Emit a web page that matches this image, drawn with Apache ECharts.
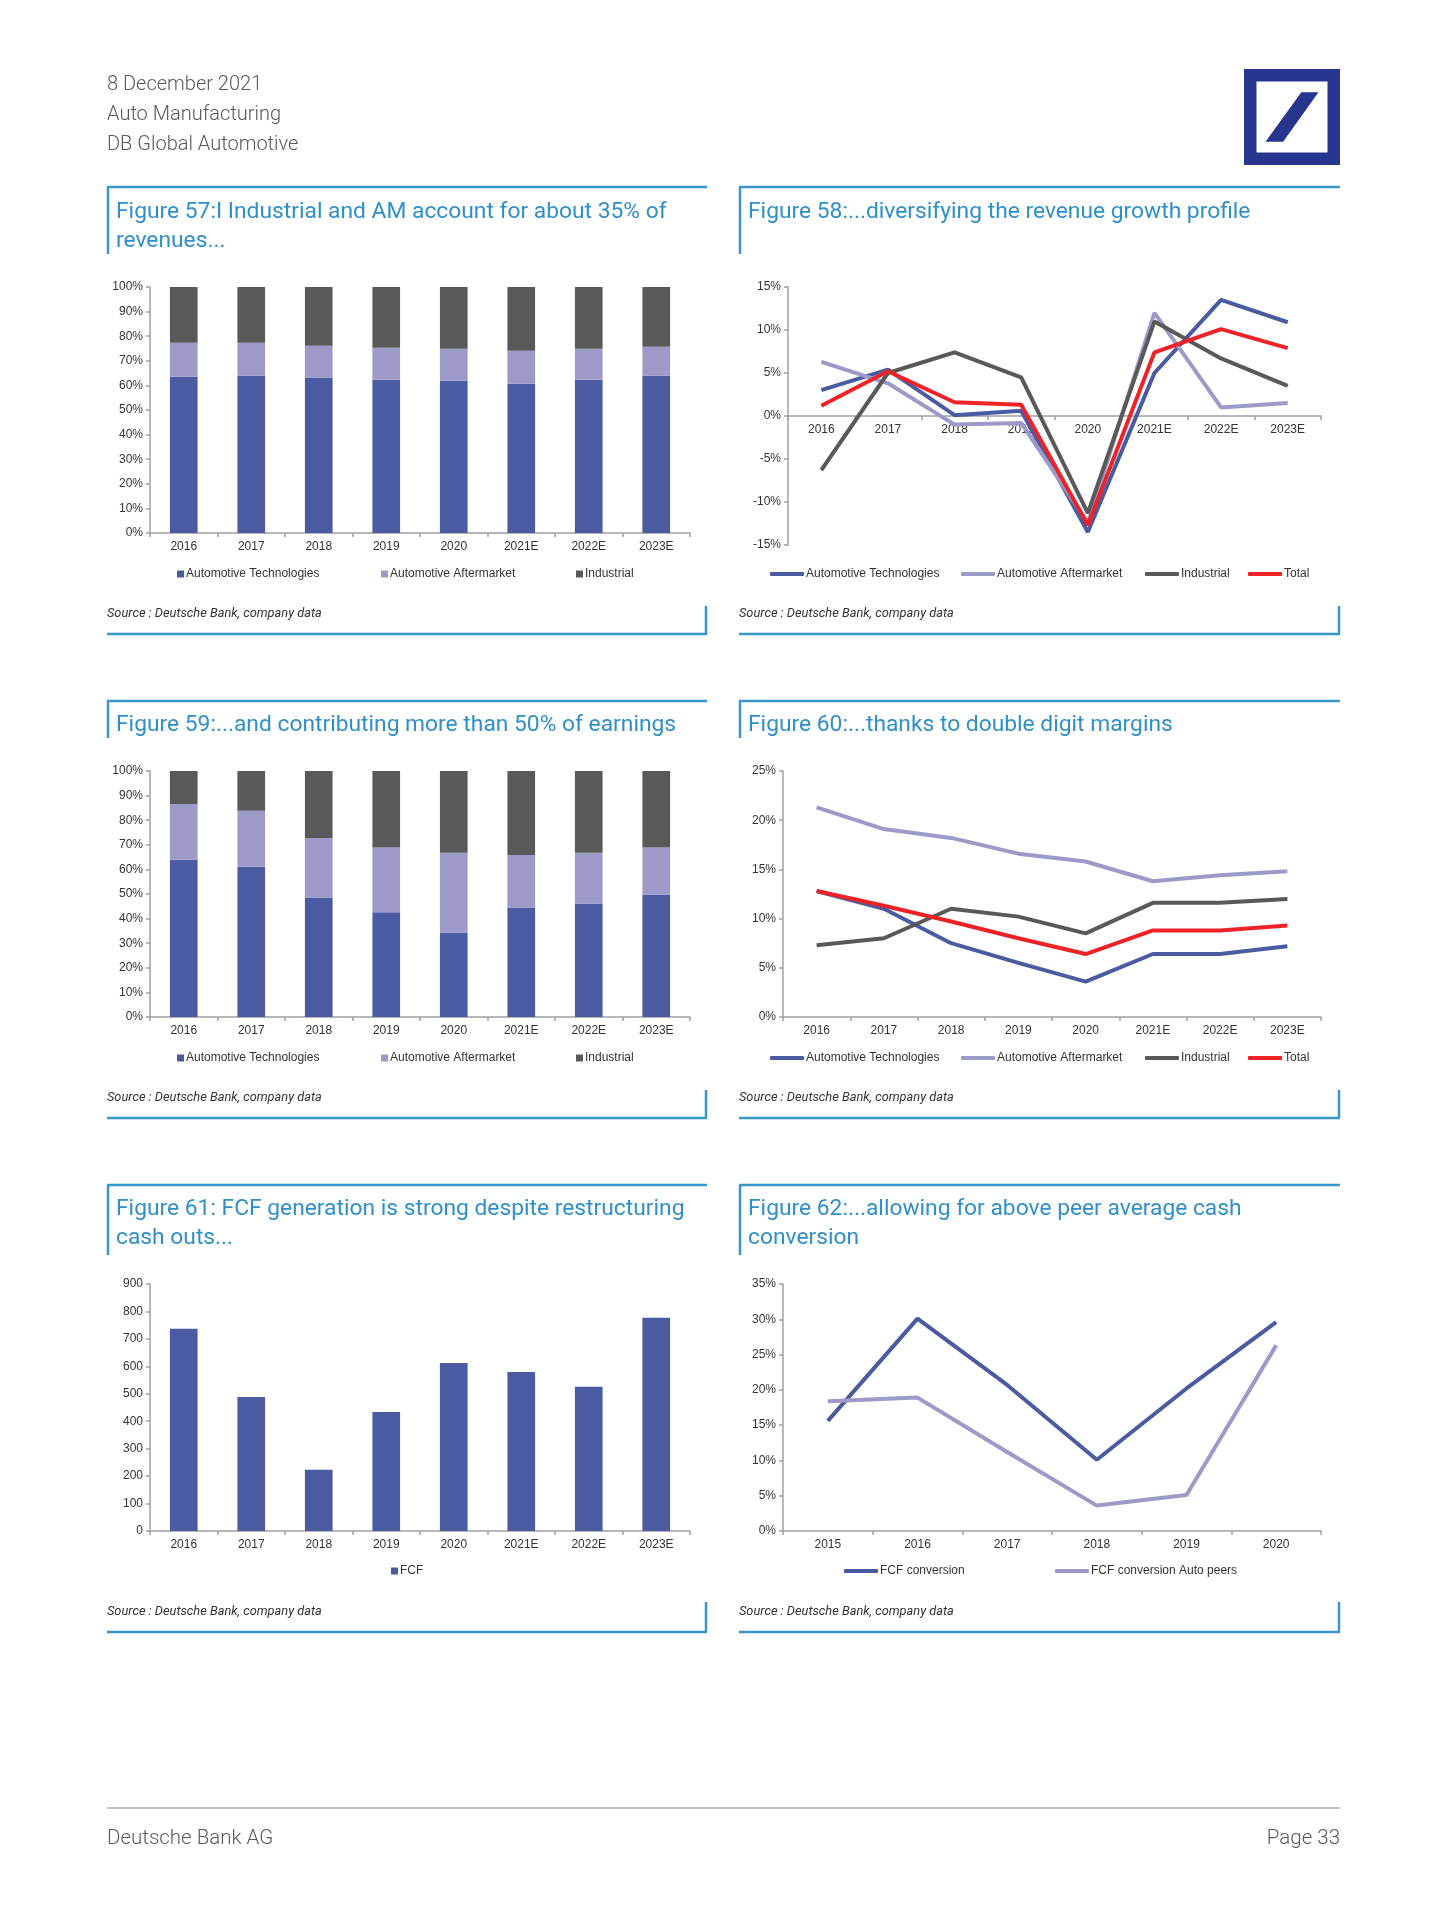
<!DOCTYPE html>
<html>
<head>
<meta charset="utf-8">
<script src="https://cdn.jsdelivr.net/npm/echarts@6/dist/echarts.min.js"></script>
<style>
html,body{margin:0;padding:0;background:#fff;}
#c{width:1447px;height:1930px;}
</style>
</head>
<body>
<div id="c"></div>
<script>
// ---------- DATA ----------
const years8 = ['2016','2017','2018','2019','2020','2021E','2022E','2023E'];
const years6 = ['2015','2016','2017','2018','2019','2020'];

// Figure 57: revenue split (%)
const revShareAT  = [63.5, 63.9, 63.1, 62.3, 61.9, 60.7, 62.3, 63.9];
const revShareAM  = [13.8, 13.4, 13.0, 13.0, 13.0, 13.4, 12.6, 11.8];
const revShareInd = [22.7, 22.7, 23.9, 24.7, 25.1, 25.9, 25.1, 24.3];

// Figure 58: revenue growth (%)
const growthAT    = [3.0, 5.4, 0.1, 0.6, -13.5, 5.0, 13.5, 10.9];
const growthAM    = [6.3, 3.8, -1.0, -0.8, -12.4, 12.0, 1.0, 1.5];
const growthInd   = [-6.3, 5.0, 7.4, 4.5, -11.3, 11.0, 6.7, 3.5];
const growthTotal = [1.2, 5.2, 1.6, 1.3, -12.7, 7.4, 10.1, 7.9];

// Figure 59: earnings split (%)
const ebitShareAT  = [63.9, 61.1, 48.5, 42.6, 34.3, 44.5, 46.1, 49.7];
const ebitShareAM  = [22.7, 22.7, 24.3, 26.3, 32.5, 21.4, 20.7, 19.2];
const ebitShareInd = [13.4, 16.2, 27.2, 31.1, 33.2, 34.1, 33.2, 31.1];

// Figure 60: margins (%)
const marginAT    = [12.8, 11.0, 7.5, 5.5, 3.6, 6.4, 6.4, 7.2];
const marginAM    = [21.3, 19.1, 18.2, 16.6, 15.8, 13.8, 14.4, 14.8];
const marginInd   = [7.3, 8.0, 11.0, 10.2, 8.5, 11.6, 11.6, 12.0];
const marginTotal = [12.8, 11.3, 9.7, 8.0, 6.4, 8.8, 8.8, 9.3];

// Figure 61: FCF
const fcf = [737, 488, 223, 434, 612, 579, 526, 777];

// Figure 62: FCF conversion (%)
const fcfConv      = [15.6, 30.1, 20.7, 10.1, 20.2, 29.6];
const fcfConvPeers = [18.4, 18.9, 11.2, 3.6, 5.1, 26.3];

// Texts
const headerLines = ['8 December 2021', 'Auto Manufacturing', 'DB Global Automotive'];
const titles = [
  ['Figure 57:I Industrial and AM account for about 35% of', 'revenues...'],
  ['Figure 58:...diversifying the revenue growth profile'],
  ['Figure 59:...and contributing more than 50% of earnings'],
  ['Figure 60:...thanks to double digit margins'],
  ['Figure 61: FCF generation is strong despite restructuring', 'cash outs...'],
  ['Figure 62:...allowing for above peer average cash', 'conversion']
];
const sourceText = 'Source : Deutsche Bank, company data';
const footerLeft = 'Deutsche Bank AG';
const footerRight = 'Page 33';
const segNames = ['Automotive Technologies', 'Automotive Aftermarket', 'Industrial', 'Total'];

// ---------- STYLE ----------
const C_AT = '#4a5ba2', C_AM = '#9d99c9', C_IND = '#595959', C_TOT = '#ee2227';
const C_FRAME = '#3a97cc';
const AX = '#a0a0a0';
const LBL = {color:'#333', fontSize:12, fontFamily:'Liberation Sans, Arial, sans-serif'};

const chart = echarts.init(document.getElementById('c'), null, {renderer:'canvas'});

const grids = [
  {left:150, top:287, width:540, height:246},
  {left:788, top:287, width:533, height:258},
  {left:150, top:771, width:540, height:246},
  {left:783, top:771, width:538, height:246},
  {left:150, top:1284, width:540, height:247},
  {left:783, top:1284, width:538, height:247}
];

function xAx(i, cats, offset){
  return {type:'category', gridIndex:i, data:cats, boundaryGap:true, offset:offset||0,
    axisLine:{onZero:false, lineStyle:{color:AX, width:1.5}},
    axisTick:{show:true, length:4, lineStyle:{color:AX, width:1.5}},
    axisLabel:Object.assign({margin:8, interval:0}, LBL), splitLine:{show:false}};
}
function yAx(i, min, max, interval, pct){
  return {type:'value', gridIndex:i, min:min, max:max, interval:interval,
    axisLine:{show:true, lineStyle:{color:AX, width:1.5}},
    axisTick:{show:true, length:4, lineStyle:{color:AX, width:1.5}},
    axisLabel:Object.assign({margin:7, formatter: pct ? '{value}%' : '{value}'}, LBL),
    splitLine:{show:false}};
}

function barSeries(name, data, color, idx){
  return {type:'bar', name:name, data:data, stack:'s'+idx, xAxisIndex:idx, yAxisIndex:idx,
    barWidth:'41%', itemStyle:{color:color}, emphasis:{disabled:true}, animation:false};
}
function lineSeries(name, data, color, idx){
  return {type:'line', name:name, data:data, xAxisIndex:idx, yAxisIndex:idx,
    showSymbol:false, symbol:'none', lineStyle:{color:color, width:4}, itemStyle:{color:color},
    emphasis:{disabled:true}, animation:false};
}

const series = [
  barSeries(segNames[0], revShareAT, C_AT, 0),
  barSeries(segNames[1], revShareAM, C_AM, 0),
  barSeries(segNames[2], revShareInd, C_IND, 0),
  lineSeries(segNames[0], growthAT, C_AT, 1),
  lineSeries(segNames[1], growthAM, C_AM, 1),
  lineSeries(segNames[2], growthInd, C_IND, 1),
  lineSeries(segNames[3], growthTotal, C_TOT, 1),
  barSeries(segNames[0], ebitShareAT, C_AT, 2),
  barSeries(segNames[1], ebitShareAM, C_AM, 2),
  barSeries(segNames[2], ebitShareInd, C_IND, 2),
  lineSeries(segNames[0], marginAT, C_AT, 3),
  lineSeries(segNames[1], marginAM, C_AM, 3),
  lineSeries(segNames[2], marginInd, C_IND, 3),
  lineSeries(segNames[3], marginTotal, C_TOT, 3),
  barSeries('FCF', fcf, C_AT, 4),
  lineSeries('FCF conversion', fcfConv, C_AT, 5),
  lineSeries('FCF conversion Auto peers', fcfConvPeers, C_AM, 5)
];

// legends: one per item, placed individually
const legTxt = {color:'#333', fontSize:12, fontFamily:'Liberation Sans, Arial, sans-serif', padding:[0,0,0,-3]};
function legSq(name, left, cy, color){
  return {data:[{name:name, itemStyle:{color:color}}], left:left, top:cy-8, icon:'rect', itemWidth:7, itemHeight:7,
    textStyle:legTxt, selectedMode:false, padding:0};
}
function legLn(name, left, cy, color){
  return {data:[{name:name, itemStyle:{color:color}}], left:left, top:cy-8, icon:'roundRect', itemWidth:34, itemHeight:4,
    textStyle:legTxt, selectedMode:false, padding:0};
}
const legends = [
  legSq(segNames[0], 177, 576, C_AT), legSq(segNames[1], 381, 576, C_AM), legSq(segNames[2], 576, 576, C_IND),
  legLn(segNames[0], 770, 576, C_AT), legLn(segNames[1], 961, 576, C_AM), legLn(segNames[2], 1145, 576, C_IND), legLn(segNames[3], 1248, 576, C_TOT),
  legSq(segNames[0], 177, 1060, C_AT), legSq(segNames[1], 381, 1060, C_AM), legSq(segNames[2], 576, 1060, C_IND),
  legLn(segNames[0], 770, 1060, C_AT), legLn(segNames[1], 961, 1060, C_AM), legLn(segNames[2], 1145, 1060, C_IND), legLn(segNames[3], 1248, 1060, C_TOT),
  legSq('FCF', 391, 1573, C_AT),
  legLn('FCF conversion', 844, 1573, C_AT), legLn('FCF conversion Auto peers', 1055, 1573, C_AM)
];

// ---------- GRAPHICS (text & frames) ----------
const g = [];
function txt(s, x, y, size, color, opts){
  opts = opts || {};
  g.push({type:'text', x:x, y:y, silent:true, style:{text:s, fill:color,
    font:(opts.italic?'italic ':'') + (opts.weight||'normal') + ' ' + size + 'px ' + (opts.family||'Roboto, sans-serif'),
    textAlign:opts.align||'left', textVerticalAlign:'middle', align:opts.align||'left', verticalAlign:'middle'}});
}
function ln(x1,y1,x2,y2,color,w){
  g.push({type:'line', silent:true, shape:{x1:x1,y1:y1,x2:x2,y2:y2}, style:{stroke:color, lineWidth:w}});
}
// header
txt(headerLines[0], 107, 85, 20, '#5a5a5a', {weight:300});
txt(headerLines[1], 107, 115, 20, '#5a5a5a', {weight:300});
txt(headerLines[2], 107, 145, 20, '#5a5a5a', {weight:300});
// logo
const LX = 1244, LY = 69, LS = 96, LB = 12.5, LOGO = '#27358f';
g.push({type:'rect', silent:true, shape:{x:LX, y:LY, width:LS, height:LS}, style:{fill:LOGO}});
g.push({type:'rect', silent:true, shape:{x:LX+LB, y:LY+LB, width:LS-2*LB, height:LS-2*LB}, style:{fill:'#fff'}});
g.push({type:'polygon', silent:true, shape:{points:[
  [LX+0.224*LS, LY+0.759*LS], [LX+0.407*LS, LY+0.759*LS], [LX+0.776*LS, LY+0.241*LS], [LX+0.597*LS, LY+0.241*LS]
]}, style:{fill:LOGO}});

// panels
const panelX = [[107,707],[739,1340]];
const rows = [
  {top:187, tb:254, bot:634, rv:606, t1:212, src:614},
  {top:701, tb:738, bot:1118, rv:1090, t1:725, src:1098},
  {top:1185, tb:1255, bot:1632, rv:1602, t1:1209, src:1612}
];
for (let r=0; r<3; r++){
  for (let c=0; c<2; c++){
    const [x0,x1] = panelX[c], R = rows[r], k = r*2+c;
    ln(x0, R.top, x1, R.top, C_FRAME, 2.5);
    ln(x0+1, R.top, x0+1, R.tb, C_FRAME, 2.5);
    ln(x0, R.bot, x1, R.bot, C_FRAME, 2.5);
    ln(x1-1, R.rv, x1-1, R.bot, C_FRAME, 2.5);
    titles[k].forEach((t,i)=> txt(t, x0+9, R.t1 + i*29, 22.8, '#2f8fc8'));
    txt(sourceText, x0, R.src, 12.8, '#333', {italic:true});
  }
}
// footer
ln(107, 1808, 1340, 1808, '#c4c4c4', 2);
txt(footerLeft, 107, 1839, 20.5, '#5a5a5a', {weight:300});
txt(footerRight, 1340, 1839, 20.5, '#5a5a5a', {align:'right', weight:300});

const option = {
  backgroundColor:'#fff',
  animation:false,
  grid: grids,
  xAxis: [xAx(0,years8), xAx(1,years8,-129), xAx(2,years8), xAx(3,years8), xAx(4,years8), xAx(5,years6)],
  yAxis: [yAx(0,0,100,10,true), yAx(1,-15,15,5,true), yAx(2,0,100,10,true), yAx(3,0,25,5,true), yAx(4,0,900,100,false), yAx(5,0,35,5,true)],
  legend: legends,
  series: series,
  graphic: g
};
chart.setOption(option);
</script>
</body>
</html>
